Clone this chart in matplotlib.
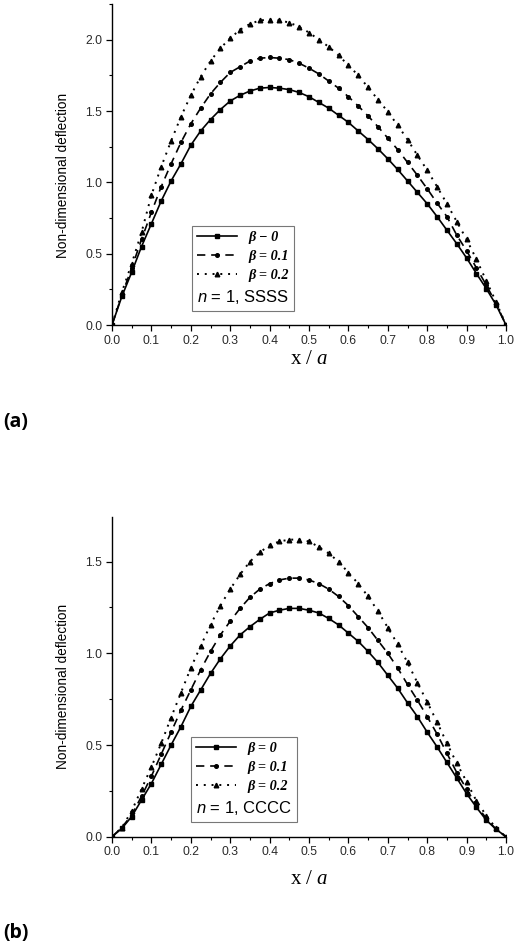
import matplotlib
matplotlib.use("Agg")
import matplotlib.pyplot as plt
import numpy as np
from matplotlib.ticker import MultipleLocator

plt.rcParams['mathtext.fontset'] = 'custom'
plt.rcParams['mathtext.rm'] = 'Liberation Serif'
plt.rcParams['mathtext.it'] = 'Liberation Serif:italic'
plt.rcParams['mathtext.sf'] = 'Liberation Sans:italic'

x = [i * 0.025 for i in range(41)]

ssss_b0 = [0, 0.20, 0.37, 0.55, 0.71, 0.87, 1.01, 1.13, 1.26, 1.36, 1.44, 1.51, 1.57, 1.61,
           1.64, 1.66, 1.665, 1.66, 1.65, 1.63, 1.60, 1.56, 1.52, 1.47, 1.42, 1.36, 1.30,
           1.235, 1.165, 1.09, 1.01, 0.93, 0.85, 0.76, 0.665, 0.57, 0.47, 0.36, 0.255, 0.14, 0]
ssss_b1 = [0, 0.21, 0.40, 0.60, 0.79, 0.97, 1.13, 1.28, 1.41, 1.52, 1.62, 1.70, 1.77, 1.81,
           1.85, 1.87, 1.875, 1.87, 1.86, 1.835, 1.80, 1.76, 1.71, 1.66, 1.60, 1.535, 1.465,
           1.39, 1.31, 1.23, 1.14, 1.05, 0.955, 0.855, 0.76, 0.63, 0.52, 0.40, 0.28, 0.15, 0]
ssss_b2 = [0, 0.23, 0.43, 0.65, 0.91, 1.11, 1.29, 1.46, 1.61, 1.74, 1.85, 1.94, 2.01, 2.07,
           2.11, 2.135, 2.14, 2.135, 2.12, 2.09, 2.05, 2.00, 1.95, 1.89, 1.82, 1.75, 1.665,
           1.58, 1.495, 1.40, 1.30, 1.19, 1.085, 0.97, 0.85, 0.725, 0.60, 0.46, 0.31, 0.16, 0]

cccc_b0 = [0, 0.045, 0.11, 0.20, 0.29, 0.395, 0.50, 0.60, 0.71, 0.80, 0.89, 0.97, 1.04, 1.10,
           1.145, 1.185, 1.22, 1.235, 1.245, 1.245, 1.235, 1.22, 1.19, 1.155, 1.11, 1.065,
           1.01, 0.95, 0.88, 0.81, 0.73, 0.655, 0.57, 0.49, 0.405, 0.32, 0.235, 0.16, 0.09, 0.04, 0]
cccc_b1 = [0, 0.05, 0.12, 0.22, 0.33, 0.45, 0.57, 0.69, 0.80, 0.91, 1.01, 1.10, 1.175, 1.245,
           1.305, 1.35, 1.38, 1.40, 1.41, 1.41, 1.40, 1.38, 1.35, 1.31, 1.26, 1.20, 1.14,
           1.07, 1.00, 0.92, 0.83, 0.745, 0.655, 0.56, 0.455, 0.35, 0.26, 0.17, 0.10, 0.04, 0]
cccc_b2 = [0, 0.05, 0.14, 0.26, 0.38, 0.51, 0.65, 0.785, 0.92, 1.04, 1.155, 1.26, 1.35, 1.43,
           1.50, 1.55, 1.59, 1.61, 1.62, 1.62, 1.61, 1.58, 1.545, 1.50, 1.44, 1.38, 1.31,
           1.23, 1.14, 1.05, 0.95, 0.84, 0.735, 0.625, 0.51, 0.40, 0.30, 0.195, 0.115, 0.045, 0]

labels_a = ['β − 0', 'β = 0.1', 'β = 0.2']
labels_b = ['β = 0', 'β = 0.1', 'β = 0.2']
notes = [r'$\mathsf{n}$ = 1, SSSS', r'$\mathsf{n}$ = 1, CCCC']
panel_tags = ['(a)', '(b)']
xticks = [0.0, 0.1, 0.2, 0.3, 0.4, 0.5, 0.6, 0.7, 0.8, 0.9, 1.0]

W, H = 521, 947
fig = plt.figure(figsize=(W / 100, H / 100), dpi=100)

styles = [
    dict(linestyle='-', marker='s', markersize=2.2, linewidth=1.2),
    dict(linestyle=(0, (5, 3.5)), marker='o', markersize=2.6, linewidth=1.2),
    dict(linestyle=(0, (1, 3.0)), marker='^', markersize=3.3, linewidth=1.4),
]

def make_panel(rect, series, labels, note, ymax, ylab_y, xlab_y, leg_anchor):
    ax = fig.add_axes(rect)
    handles = []
    for s, lab, st in zip(series, labels, styles):
        h, = ax.plot(x, s, color='black', label=lab, **st)
        handles.append(h)
    ax.set_xlim(0, 1.0)
    ax.set_ylim(0, ymax)
    ax.spines['top'].set_visible(False)
    ax.spines['right'].set_visible(False)
    for sp in ('left', 'bottom'):
        ax.spines[sp].set_linewidth(1.0)
    ax.set_xticks(xticks)
    ax.set_xticklabels([f'{t:.1f}' for t in xticks])
    ax.xaxis.set_minor_locator(MultipleLocator(0.05))
    ax.yaxis.set_major_locator(MultipleLocator(0.5))
    ax.yaxis.set_minor_locator(MultipleLocator(0.25))
    ax.yaxis.set_major_formatter(matplotlib.ticker.FormatStrFormatter('%.1f'))
    ax.tick_params(which='major', direction='out', length=4, width=0.9,
                   labelsize=8.8, labelcolor='#2a2a2a', pad=3)
    ax.tick_params(which='minor', direction='out', length=2.5, width=0.8)
    for lbl in ax.get_xticklabels() + ax.get_yticklabels():
        lbl.set_family('Liberation Sans')
    ax.set_ylabel('Non-dimensional deflection', family='Liberation Sans', fontsize=9.8)
    ax.yaxis.set_label_coords(-0.107, ylab_y)
    ax.set_xlabel('x / $a$', family='Liberation Serif', fontsize=15)
    ax.xaxis.set_label_coords(0.5, xlab_y)
    ax.xaxis.label.set_va('center')

    leg = ax.legend(handles=handles, labels=labels, loc='upper left',
                    bbox_to_anchor=leg_anchor, borderaxespad=0,
                    prop=dict(family='Liberation Serif', weight='bold', style='italic', size=10.3),
                    title=note, title_fontproperties=dict(family='Liberation Sans', size=12),
                    alignment='left', fancybox=False, frameon=True, framealpha=1,
                    edgecolor='#777777', handlelength=2.8, handletextpad=0.8,
                    labelspacing=0.42, borderpad=0.35, markerscale=1.0)
    leg.get_frame().set_linewidth(0.8)
    try:
        box = leg._legend_box
        box._children = box._children[::-1]
    except Exception:
        pass
    return ax

make_panel([112 / W, 1 - 325 / H, 394 / W, 321 / H],
           [ssss_b0, ssss_b1, ssss_b2], labels_a, notes[0], 2.25,
           0.467, -0.109, (0.203, 0.308))
make_panel([112 / W, 1 - 836.7 / H, 394 / W, 320 / H],
           [cccc_b0, cccc_b1, cccc_b2], labels_b, notes[1], 1.745,
           0.471, -0.135, (0.201, 0.312))

for tag, ypx in zip(panel_tags, [422, 933]):
    fig.text(3 / W, 1 - ypx / H, tag, family=['Open Sans', 'DejaVu Sans'],
             weight='bold', fontsize=14, va='center', ha='left')

fig.savefig('out.png', dpi=100)
